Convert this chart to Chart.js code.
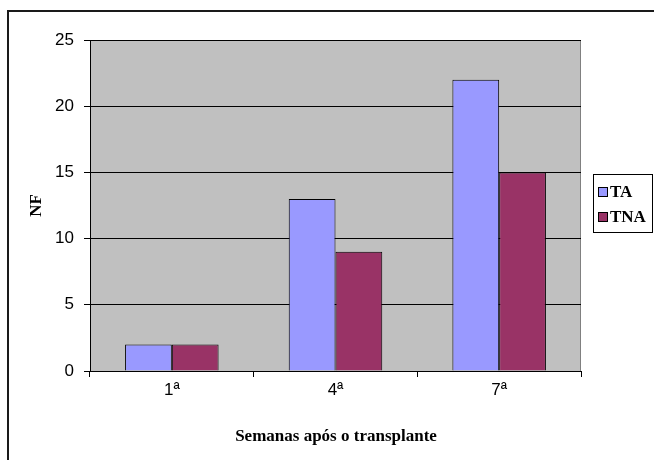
<!DOCTYPE html>
<html>
<head>
<meta charset="utf-8">
<script src="https://cdn.jsdelivr.net/npm/chart.js@4.4.1/dist/chart.umd.min.js"></script>
<style>
  html, body { margin: 0; padding: 0; background: #fff; }
  #wrap { width: 654px; height: 460px; position: relative; }
</style>
</head>
<body>
<div id="wrap"><canvas id="c" width="654" height="460"></canvas></div>
<script>
// Number of leaves per week after transplanting
const weeks = ['1ª', '4ª', '7ª'];
const seriesNames = ['TA', 'TNA'];
const taValues = [2, 13, 22];
const tnaValues = [2, 9, 15];
const seriesColors = ['#9999FF', '#993366'];
const yTicks = [0, 5, 10, 15, 20, 25];
const yTitle = 'NF';
const xTitle = 'Semanas após o transplante';

const serif = '"Liberation Serif", "Times New Roman", serif';
const sans = '"Liberation Sans", Arial, sans-serif';

// Frame, plot background, axis titles and legend box
const decorations = {
  id: 'decorations',
  beforeDraw(chart) {
    const { ctx, chartArea: a } = chart;
    ctx.save();
    ctx.fillStyle = '#fff';
    ctx.fillRect(0, 0, chart.width, chart.height);
    ctx.fillStyle = '#C0C0C0';
    ctx.fillRect(a.left, a.top, a.right - a.left, a.bottom - a.top);
    ctx.strokeStyle = '#808080';
    ctx.lineWidth = 1;
    ctx.strokeRect(a.left + 0.5, a.top + 0.5, a.right - a.left - 1, a.bottom - a.top);
    ctx.restore();
  },
  afterDraw(chart) {
    const { ctx, chartArea: a } = chart;
    ctx.save();
    // outer frame
    ctx.strokeStyle = '#1a1a1a';
    ctx.lineWidth = 2;
    ctx.beginPath();
    ctx.moveTo(8, 470);
    ctx.lineTo(8, 11);
    ctx.lineTo(670, 11);
    ctx.stroke();

    // axis titles
    ctx.fillStyle = '#000';
    ctx.font = 'bold 17px ' + serif;
    ctx.textAlign = 'center';
    ctx.textBaseline = 'middle';
    ctx.fillText(xTitle, 336, 437);
    ctx.save();
    ctx.translate(37, (a.top + a.bottom) / 2);
    ctx.rotate(-Math.PI / 2);
    ctx.fillText(yTitle, 0, 0);
    ctx.restore();

    // legend
    const lx = 593, ly = 174, lw = 60, lh = 59;
    ctx.fillStyle = '#fff';
    ctx.fillRect(lx, ly, lw, lh);
    ctx.strokeStyle = '#000';
    ctx.lineWidth = 1;
    ctx.strokeRect(lx + 0.5, ly + 0.5, lw - 1, lh - 1);
    ctx.textAlign = 'left';
    ctx.font = 'bold 17px ' + serif;
    chart.data.datasets.forEach((ds, i) => {
      const cy = ly + 18 + i * 25;
      ctx.fillStyle = ds.backgroundColor;
      ctx.fillRect(598, cy - 5, 10, 10);
      ctx.strokeStyle = '#000';
      ctx.strokeRect(598.5, cy - 4.5, 9, 9);
      ctx.fillStyle = '#000';
      ctx.fillText(ds.label, 610, cy + 1);
    });
    ctx.restore();
  }
};

new Chart(document.getElementById('c'), {
  type: 'bar',
  data: {
    labels: weeks,
    datasets: [
      { label: seriesNames[0], data: taValues, backgroundColor: seriesColors[0], borderColor: '#000', borderWidth: 1 },
      { label: seriesNames[1], data: tnaValues, backgroundColor: seriesColors[1], borderColor: '#000', borderWidth: 1 }
    ]
  },
  options: {
    responsive: false,
    animation: false,
    devicePixelRatio: 1,
    layout: { padding: { left: 0, top: 40, right: 73, bottom: 0 } },
    datasets: { bar: { categoryPercentage: 2 / 3.5, barPercentage: 1 } },
    plugins: { legend: { display: false }, tooltip: { enabled: false } },
    scales: {
      x: {
        offset: true,
        grid: { offset: true, drawOnChartArea: false, drawTicks: true, tickLength: 6, color: '#000' },
        border: { color: '#000', width: 1 },
        ticks: { color: '#000', font: { family: sans, size: 17 }, padding: 3 },
        afterFit(s) { s.height = 89; }
      },
      y: {
        min: 0, max: 25,
        afterBuildTicks(s) { s.ticks = yTicks.map(v => ({ value: v })); },
        grid: { color: '#000', drawTicks: true, tickLength: 6 },
        border: { color: '#000', width: 1 },
        ticks: { color: '#000', font: { family: sans, size: 17 }, padding: 10 },
        afterFit(s) { s.width = 90; }
      }
    }
  },
  plugins: [decorations]
});
</script>
</body>
</html>
